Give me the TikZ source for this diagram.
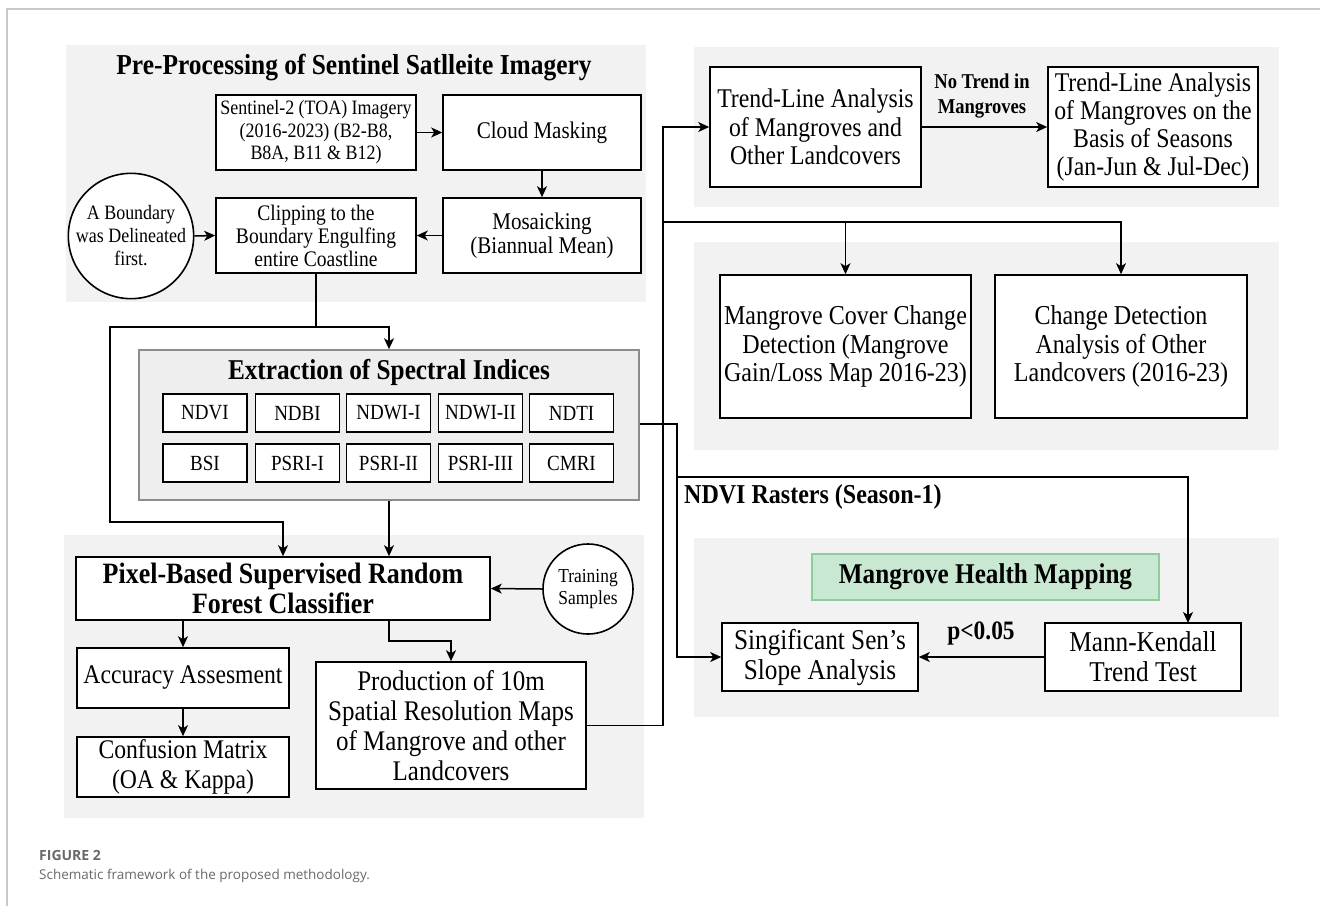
\documentclass[tikz,border=0pt]{standalone}
\usepackage{fontspec}
\setmainfont{Liberation Serif}[FakeStretch=0.88]
\newfontfamily\capfont{Open Sans}
\usetikzlibrary{arrows.meta,calc}
\definecolor{panelgray}{RGB}{242,242,242}
\definecolor{extfill}{RGB}{238,238,238}
\definecolor{extdraw}{RGB}{140,140,140}
\definecolor{hfill}{RGB}{201,232,210}
\definecolor{hdraw}{RGB}{140,205,155}
\definecolor{framegray}{RGB}{200,200,200}
\definecolor{capgray}{RGB}{105,105,105}
\newcommand{\fs}[2]{\fontsize{#1}{#2}\selectfont}
\tikzset{
  box/.style={draw, line width=1.6pt, fill=white, align=center, inner sep=0pt},
  cbox/.style={circle, draw, line width=1.6pt, fill=white, align=center, inner sep=0pt},
  panel/.style={fill=panelgray, draw=none, inner sep=0pt},
  arr/.style={line width=1.5pt, -{Stealth[length=11pt,width=10pt,inset=3pt]}},
  ln/.style={line width=1.5pt},
  lab/.style={inner sep=0pt, align=center},
  idx/.style={box, minimum width=84pt, minimum height=38pt, font=\fs{21.6}{22}}
}
\begin{document}
\begin{tikzpicture}[x=1pt,y=-1pt]
\useasboundingbox (0,0) rectangle (1320,906);
% frame
\draw[line width=1.2pt, draw=framegray] (7,906) -- (7,9) -- (1320,9);
% panels
\node[panel, minimum width=580pt, minimum height=257pt] (p1) at (356,173.5) {};
\node[panel, minimum width=585pt, minimum height=160pt] (p2) at (986.5,127) {};
\node[panel, minimum width=585pt, minimum height=208pt] (p3) at (986.5,346) {};
\node[panel, minimum width=580pt, minimum height=283pt] (p5) at (354,676.5) {};
\node[panel, minimum width=585pt, minimum height=179pt] (p6) at (986.5,627.5) {};
\node[fill=extfill, draw=extdraw, line width=1.5pt, inner sep=0pt, minimum width=500pt, minimum height=150pt] (ext) at (389,425) {};
% pre-processing
\node[lab, font=\bfseries\fs{28.9}{30}] (t1) at (354,68) {Pre-Processing of Sentinel Satlleite Imagery};
\node[box, minimum width=200pt, minimum height=75pt, font=\fs{20.4}{22.5}] (sent) at (316,132.5) {Sentinel-2 (TOA) Imagery\\(2016-2023) (B2-B8,\\B8A, B11 \& B12)};
\node[box, minimum width=198pt, minimum height=75pt, font=\fs{23.9}{24}] (cloud) at (542,132.5) {Cloud Masking};
\node[box, minimum width=198pt, minimum height=75pt, font=\fs{23.9}{23.5}] (mos) at (542,235.5) {Mosaicking\\(Biannual Mean)};
\node[box, minimum width=200pt, minimum height=75pt, font=\fs{22.2}{23}] (clip) at (316,235.5) {Clipping to the\\Boundary Engulfing\\entire Coastline};
\node[cbox, minimum size=119pt, font=\fs{20.4}{23}] (bnd) at (131,236) {A Boundary\\was Delineated\\first.};
\draw[arr] (sent.east) -- (cloud.west);
\draw[arr] (cloud.south) -- (mos.north);
\draw[arr] (mos.west) -- (clip.east);
\draw[arr] (bnd.east) -- (clip.west);
% extraction
\node[lab, font=\bfseries\fs{28.7}{30}] (t2) at (389,372) {Extraction of Spectral Indices};
\node[idx] (i1) at (205,413) {NDVI};
\node[idx] (i2) at (297.5,413) {NDBI};
\node[idx] (i3) at (388.5,413) {NDWI-I};
\node[idx] (i4) at (480.5,413) {NDWI-II};
\node[idx] (i5) at (571.5,413) {NDTI};
\node[idx] (i6) at (205,463) {BSI};
\node[idx] (i7) at (297.5,463) {PSRI-I};
\node[idx] (i8) at (388.5,463) {PSRI-II};
\node[idx] (i9) at (480.5,463) {PSRI-III};
\node[idx] (i10) at (571.5,463) {CMRI};
% classifier
\node[box, minimum width=414pt, minimum height=63pt, font=\bfseries\fs{29.5}{30}] (pix) at (283,588.5) {Pixel-Based Supervised Random\\Forest Classifier};
\node[cbox, minimum size=90pt, font=\fs{19.8}{22}] (train) at (588,589) {Training\\Samples};
\node[box, minimum width=212pt, minimum height=60pt, font=\fs{26.9}{28}] (acc) at (183,678) {Accuracy Assesment};
\node[box, minimum width=212pt, minimum height=60pt, font=\fs{26.9}{30}] (conf) at (183,767) {Confusion Matrix\\(OA \& Kappa)};
\node[box, minimum width=270pt, minimum height=127pt, font=\fs{28.4}{30}] (prod) at (451,725.5) {Production of 10m\\Spatial Resolution Maps\\of Mangrove and other\\Landcovers};
% connectors left
\coordinate (j1) at (316,327);
\coordinate (j2) at (110,327);
\coordinate (j3) at (110,522);
\draw[arr] (clip.south) -- (j1) -| (ext.north);
\draw[arr] (j1) -- (j2) -- (j3) -| (pix.north);
\draw[arr] (ext.south) -- (ext.south |- pix.north);
\draw[arr] (train.west) -- (pix.east);
\draw[arr] (pix.south -| acc.north) -- (acc.north);
\draw[arr] (acc.south) -- (conf.north);
\coordinate (pb) at (pix.south -| ext.south);
\coordinate (pb2) at (389,641);
\draw[arr] (pb) -- (pb2) -| (prod.north);
% right side
\node[box, minimum width=211pt, minimum height=120pt, font=\fs{27}{28.3}] (trend) at (815.5,127) {Trend-Line Analysis\\of Mangroves and\\Other Landcovers};
\node[box, minimum width=210pt, minimum height=120pt, font=\fs{27}{28.3}] (seas) at (1153,127) {Trend-Line Analysis\\of Mangroves on the\\Basis of Seasons\\(Jan-Jun \& Jul-Dec)};
\node[lab, font=\bfseries\fs{21.1}{25}] (notrend) at (982,96) {No Trend in\\Mangroves};
\draw[arr] (trend.east) -- (seas.west);
\node[box, minimum width=251pt, minimum height=143pt, font=\fs{27.3}{28.3}] (mcc) at (845.5,346.5) {Mangrove Cover Change\\Detection (Mangrove\\Gain/Loss Map 2016-23)};
\node[box, minimum width=252pt, minimum height=143pt, font=\fs{27.3}{28.3}] (chg) at (1121,346.5) {Change Detection\\Analysis of Other\\Landcovers (2016-23)};
\coordinate (vtop) at (663,127);
\coordinate (hb) at (663,222);
\draw[arr] (prod.east) -| (vtop) -- (trend.west);
\draw[arr] (hb) -| (chg.north);
\draw[arr] (hb -| mcc.north) -- (mcc.north);
% health
\node[draw=hdraw, fill=hfill, line width=1.3pt, inner sep=0pt, minimum width=347pt, minimum height=46pt, font=\bfseries\fs{28.6}{30}] (hm) at (985.5,577) {Mangrove Health Mapping};
\node[box, minimum width=196pt, minimum height=68pt, font=\fs{28.7}{30}] (sig) at (820,657) {Singificant Sen's\\Slope Analysis};
\node[box, minimum width=196pt, minimum height=68pt, font=\fs{28.7}{30}] (mk) at (1143,657) {Mann-Kendall\\Trend Test};
\node[lab, font=\bfseries\fs{26.6}{28}] (pval) at (981,633) {p<0.05};
\draw[arr] (mk.west) -- (sig.east);
\coordinate (nt) at (677,424);
\coordinate (nd) at (677,477);
\coordinate (mkin) at (1188,623);
\draw[arr] (ext.east |- nt) -- (nt) |- (sig.west);
\draw[arr] (nd) -| (mkin);
\node[lab, anchor=west, font=\bfseries\fs{27.3}{28}] (ndvilab) at (684,497) {NDVI Rasters (Season-1)};
% caption
\node[lab, anchor=west, text=capgray, font=\capfont\bfseries\fs{14}{16}] (fig) at (39,855) {FIGURE 2};
\node[lab, anchor=west, text=capgray, font=\capfont\fs{13.5}{16}] (cap) at (39,876) {Schematic framework of the proposed methodology.};
\end{tikzpicture}
\end{document}
